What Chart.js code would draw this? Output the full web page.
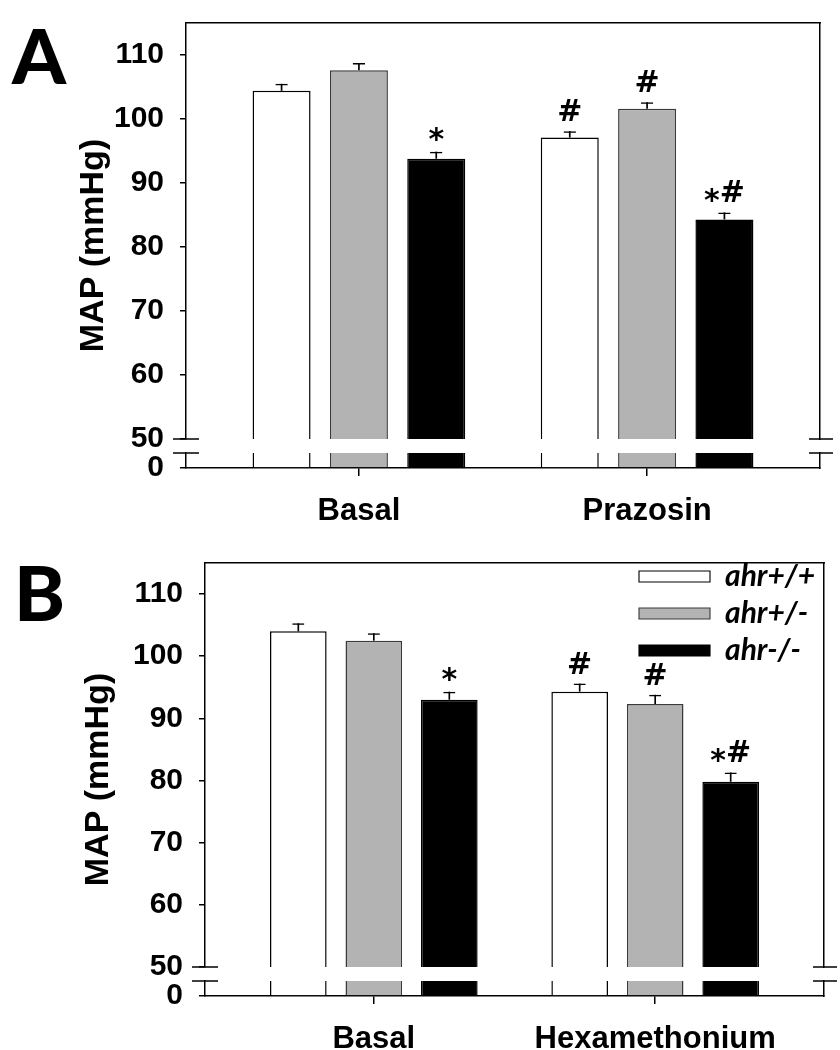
<!DOCTYPE html>
<html>
<head>
<meta charset="utf-8">
<script src="https://cdn.jsdelivr.net/npm/chart.js@4.4.1/dist/chart.umd.min.js"></script>
<style>
  html, body { margin: 0; padding: 0; background: #ffffff; }
  body { width: 840px; height: 1050px; position: relative; overflow: hidden; }
  canvas { position: absolute; left: 0; }
  #chartA { top: 0px; }
  #chartB { top: 540px; }
</style>
</head>
<body>
<canvas id="chartA" width="840" height="540"></canvas>
<canvas id="chartB" width="840" height="510"></canvas>
<script>
// ---------------- data ----------------
const seriesNames = ['ahr+/+', 'ahr+/-', 'ahr-/-'];

const categoriesA = ['Basal', 'Prazosin'];
const wtA  = [104.4, 97.1];
const hetA = [107.6, 101.6];
const koA  = [93.8, 84.3];
const wtErrA  = [1.1, 1.0];
const hetErrA = [1.15, 1.0];
const koErrA  = [1.1, 1.1];
const wtMarksA  = ['', '#'];
const hetMarksA = ['', '#'];
const koMarksA  = ['*', '*#'];

const categoriesB = ['Basal', 'Hexamethonium'];
const wtB  = [104.0, 94.3];
const hetB = [102.5, 92.3];
const koB  = [93.0, 79.8];
const wtErrB  = [1.3, 1.3];
const hetErrB = [1.2, 1.5];
const koErrB  = [1.3, 1.5];
const wtMarksB  = ['', '#'];
const hetMarksB = ['', '#'];
const koMarksB  = ['*', '*#'];

const yTicksUpper = [50, 60, 70, 80, 90, 100, 110];
const yTicksLower = [0];
const Y_MAX = 115;       // top of the upper axis segment
const BREAK_HIGH = 50;   // bottom of the upper segment
const BREAK_LOW = 5;     // top of the lower segment

// ---------------- styles ----------------
const fills   = ['#ffffff', '#b3b3b3', '#000000'];
const borders = ['#000000', '#3a3a3a', '#000000'];
const SANS = "'Liberation Sans', Arial, sans-serif";
const LEG = "Lato, 'Open Sans', sans-serif";
const MARKFONT = "'DejaVu Sans', sans-serif";
const CP = 0.805, BP = 0.75, CAP_BP = 0.16, STEM_BP = 0.022;

const fixSize = (w, h) => (sc) => {
  if (w !== null) sc.width = w;
  if (h !== null) sc.height = h;
  sc.paddingTop = 0; sc.paddingBottom = 0; sc.paddingLeft = 0; sc.paddingRight = 0;
};

function drawMarks(ctx, txt, cx, baseY, size) {
  ctx.font = 'bold ' + size + 'px ' + MARKFONT;
  ctx.textBaseline = 'alphabetic';
  ctx.textAlign = 'left';
  ctx.fillStyle = '#000';
  const w = ctx.measureText(txt).width;
  let x = cx - w / 2;
  for (const ch of txt) {
    const dy = ch === '*' ? size * 0.26 : 0;
    ctx.fillText(ch, x, baseY + dy);
    x += ctx.measureText(ch).width;
  }
}

const decorPlugin = {
  id: 'decor',
  afterLayout(chart, args, opts) {
    if (opts.legendLeft != null && chart.legend) {
      chart.legend.left = opts.legendLeft;
      chart.legend.top = opts.legendTop;
      chart.legend.right = chart.legend.right + 20;
    }
  },
  afterDatasetsDraw(chart, args, opts) {
    const ctx = chart.ctx;
    ctx.save();
    (opts.marks || []).forEach((arr, k) => {
      const meta = chart.getDatasetMeta(opts.capOffset + k);
      arr.forEach((txt, i) => {
        if (!txt) return;
        const el = meta.data[i];
        drawMarks(ctx, txt, el.x, el.y - 10, 30);
      });
    });
    ctx.restore();
  },
  afterDraw(chart, args, opts) {
    const {ctx, chartArea: ca, scales} = chart;
    ctx.save();
    ctx.strokeStyle = '#000';
    ctx.lineWidth = 1.5;
    const ys = [scales.y.getPixelForValue(BREAK_HIGH), scales.y0.getPixelForValue(BREAK_LOW)];
    ys.forEach(yy => {
      [[ca.left, 13, 13], [ca.right, 11, 13]].forEach(([x, a, b]) => {
        ctx.beginPath(); ctx.moveTo(x - a, yy); ctx.lineTo(x + b, yy); ctx.stroke();
      });
    });
    ctx.font = '900 77px Lato, Inter, sans-serif';
    ctx.fillStyle = '#000';
    ctx.textBaseline = 'alphabetic';
    ctx.textAlign = 'left';
    ctx.fillText(opts.letter, opts.letterX, opts.letterY);
    ctx.restore();
  }
};

function makePanel(id, p) {
  const series = [
    {vals: p.wt, err: p.wtErr, marks: p.wtMarks},
    {vals: p.het, err: p.hetErr, marks: p.hetMarks},
    {vals: p.ko, err: p.koErr, marks: p.koMarks}
  ];
  const datasets = [];
  // upper parts of bars
  series.forEach((s, k) => datasets.push({
    label: seriesNames[k], yAxisID: 'y', stack: 's' + k,
    data: s.vals.map((v, i) => ({x: i, y: v})),
    backgroundColor: fills[k], borderColor: borders[k],
    borderWidth: {top: 1.5, left: 1.5, right: 1.5, bottom: 0},
    categoryPercentage: CP, barPercentage: BP
  }));
  // parts below the axis break
  series.forEach((s, k) => datasets.push({
    label: seriesNames[k] + ' (below break)', yAxisID: 'y0', stack: 's' + k,
    data: s.vals.map((v, i) => ({x: i, y: Math.min(v, BREAK_LOW)})),
    backgroundColor: fills[k], borderColor: borders[k],
    borderWidth: {top: 0, left: 1.5, right: 1.5, bottom: 0},
    categoryPercentage: CP, barPercentage: BP
  }));
  // error bar stems
  series.forEach((s, k) => datasets.push({
    label: seriesNames[k] + ' SE', yAxisID: 'y', stack: 's' + k,
    data: s.vals.map((v, i) => ({x: i, y: [v, v + s.err[i]]})),
    backgroundColor: '#000', borderWidth: 0,
    categoryPercentage: CP, barPercentage: STEM_BP
  }));
  // error bar caps
  series.forEach((s, k) => datasets.push({
    label: seriesNames[k] + ' SE cap', yAxisID: 'y', stack: 's' + k,
    data: s.vals.map((v, i) => ({x: i, y: [v, v + s.err[i]]})),
    backgroundColor: 'rgba(0,0,0,0)', borderColor: '#000',
    borderWidth: {top: 1.5, left: 0, right: 0, bottom: 0},
    categoryPercentage: CP, barPercentage: CAP_BP
  }));

  const tickFont = {family: SANS, size: 30, weight: 'bold'};
  const hidden = {
    ticks: {display: false}, grid: {display: false}
  };
  const cfg = {
    type: 'bar',
    data: {datasets},
    plugins: [decorPlugin],
    options: {
      responsive: false, maintainAspectRatio: false, animation: false,
      events: [],
      layout: {padding: {top: 23, right: p.padRight, bottom: p.padBottom, left: 0}},
      plugins: {
        tooltip: {enabled: false},
        legend: p.legend ? {
          display: true, position: 'chartArea', align: 'start',
          labels: {
            boxWidth: 71, boxHeight: 11, padding: 7, color: '#000',
            font: {family: LEG, size: 30, weight: 'bold', style: 'italic'},
            filter: (item) => item.datasetIndex < 3
          }
        } : {display: false},
        decor: {
          marks: series.map(s => s.marks), capOffset: 9,
          letter: p.letter, letterX: p.letterX, letterY: p.letterY,
          legendLeft: p.legend ? 632 : null, legendTop: 14.5
        }
      },
      scales: {
        x: {
          type: 'linear', position: 'bottom', min: -0.6, max: 1.6, offset: false,
          afterBuildTicks: (sc) => { sc.ticks = p.categories.map((c, i) => ({value: i})); },
          ticks: {
            callback: (v, i) => p.categories[i], autoSkip: false, maxRotation: 0,
            font: {family: SANS, size: 31, weight: 'bold'}, color: '#000', padding: 17
          },
          grid: {display: true, drawOnChartArea: false, drawTicks: true, tickLength: 8,
                 color: '#000', lineWidth: 1.5, offset: false},
          border: {display: true, color: '#000', width: 1.5},
          afterFit: fixSize(null, p.xH)
        },
        xt: {
          type: 'linear', position: 'top', ...hidden,
          border: {display: true, color: '#000', width: 1.5},
          afterFit: fixSize(null, 0)
        },
        ytitle: {
          type: 'linear', position: 'left', weight: 10, ...hidden,
          border: {display: false},
          title: {display: true, text: 'MAP (mmHg)', color: '#000',
                  font: {family: SANS, size: 34, weight: 'bold'},
                  padding: {top: p.titlePad, bottom: 0}},
          afterFit: fixSize(p.titleW, null)
        },
        y: {
          type: 'linear', position: 'left', stack: 'left', stackWeight: p.upperH, weight: 3,
          min: BREAK_HIGH, max: Y_MAX, stacked: false,
          afterBuildTicks: (sc) => { sc.ticks = yTicksUpper.map(v => ({value: v})); },
          ticks: {font: tickFont, color: '#000', padding: 16, autoSkip: false},
          grid: {display: true, drawOnChartArea: false, drawTicks: true, tickLength: 6,
                 color: '#000', lineWidth: 1.5},
          border: {display: true, color: '#000', width: 1.5},
          afterFit: fixSize(p.axisW, null)
        },
        yg: {
          type: 'linear', position: 'left', stack: 'left', stackWeight: 14, weight: 2, ...hidden,
          border: {display: false},
          afterFit: fixSize(p.axisW, null)
        },
        y0: {
          type: 'linear', position: 'left', stack: 'left', stackWeight: 15, weight: 1,
          min: 0, max: BREAK_LOW, stacked: false,
          afterBuildTicks: (sc) => { sc.ticks = yTicksLower.map(v => ({value: v})); },
          ticks: {font: tickFont, color: '#000', padding: 16, autoSkip: false},
          grid: {display: true, drawOnChartArea: false, drawTicks: true, tickLength: 6,
                 color: '#000', lineWidth: 1.5},
          border: {display: true, color: '#000', width: 1.5},
          afterFit: fixSize(p.axisW, null)
        },
        yr: {
          type: 'linear', position: 'right', stack: 'right', stackWeight: p.upperH, weight: 1, ...hidden,
          border: {display: true, color: '#000', width: 1.5},
          afterFit: fixSize(0, null)
        },
        yrg: {
          type: 'linear', position: 'right', stack: 'right', stackWeight: 14, weight: 2, ...hidden,
          border: {display: false},
          afterFit: fixSize(0, null)
        },
        yr0: {
          type: 'linear', position: 'right', stack: 'right', stackWeight: 15, weight: 3, ...hidden,
          border: {display: true, color: '#000', width: 1.5},
          afterFit: fixSize(0, null)
        }
      }
    }
  };
  return new Chart(document.getElementById(id), cfg);
}

makePanel('chartA', {
  categories: categoriesA, wt: wtA, het: hetA, ko: koA,
  wtErr: wtErrA, hetErr: hetErrA, koErr: koErrA,
  wtMarks: wtMarksA, hetMarks: hetMarksA, koMarks: koMarksA,
  padRight: 20, padBottom: 12, xH: 60, upperH: 416, titleW: 110, axisW: 76, titlePad: 73,
  letter: 'A', letterX: 12, letterY: 84, legend: false
});
makePanel('chartB', {
  categories: categoriesB, wt: wtB, het: hetB, ko: koB,
  wtErr: wtErrB, hetErr: hetErrB, koErr: koErrB,
  wtMarks: wtMarksB, hetMarks: hetMarksB, koMarks: koMarksB,
  padRight: 16, padBottom: 0, xH: 54, upperH: 404, titleW: 125, axisW: 80, titlePad: 78,
  letter: 'B', letterX: 14, letterY: 81, legend: true
});
</script>
</body>
</html>
